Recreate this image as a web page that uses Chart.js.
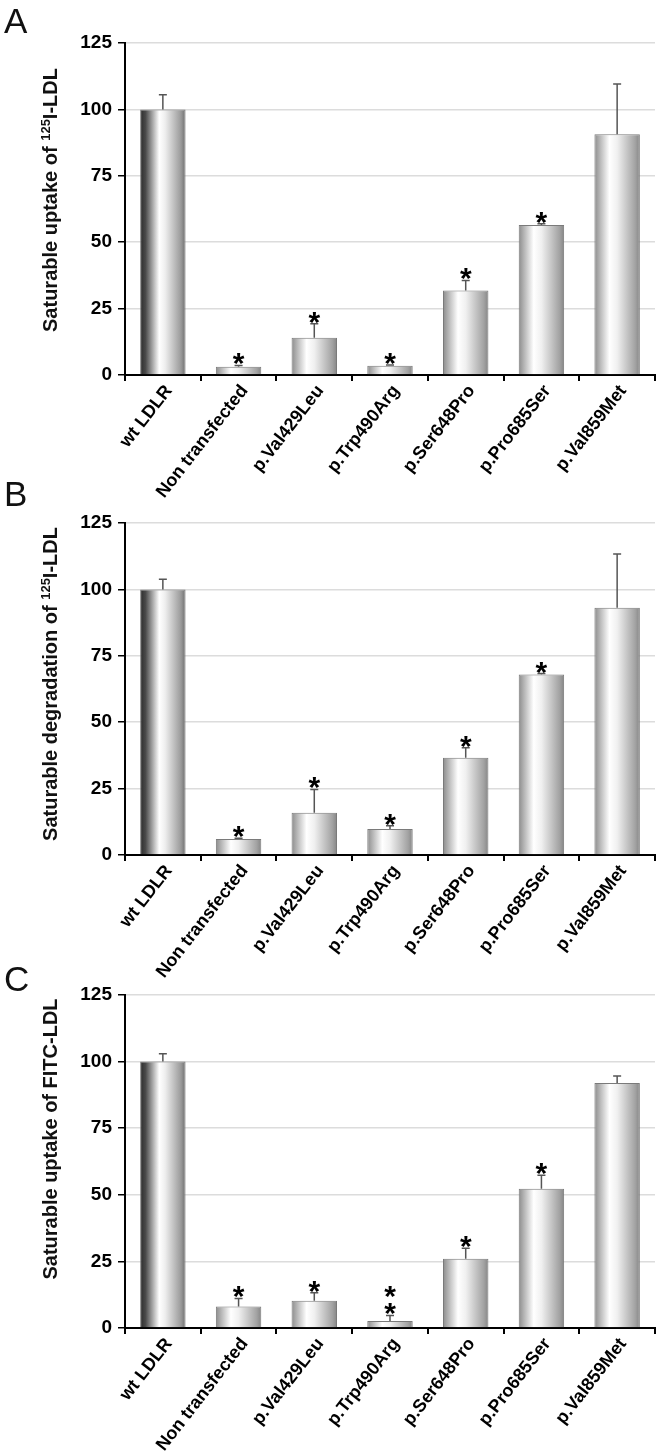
<!DOCTYPE html>
<html>
<head>
<meta charset="utf-8">
<title>LDLR variants: LDL uptake and degradation</title>
<script src="https://cdn.jsdelivr.net/npm/chart.js@4.4.0/dist/chart.umd.min.js"></script>
<style>
  html, body { margin: 0; padding: 0; background: #fff; }
  #wrap { position: relative; width: 660px; height: 1456px; overflow: hidden; }
  .panel { position: absolute; left: 0; }
</style>
</head>
<body>
<div id="wrap">
  <canvas id="panelA" class="panel" width="660" height="515" style="top:0"></canvas>
  <canvas id="panelB" class="panel" width="660" height="510" style="top:480px"></canvas>
  <canvas id="panelC" class="panel" width="660" height="501" style="top:955px"></canvas>
</div>
<script>
(function () {
  'use strict';

  // values (% of wt LDLR), SD = height of the error bar above the bar
  const CATEGORIES = ['wt LDLR', 'Non transfected', 'p.Val429Leu', 'p.Trp490Arg', 'p.Ser648Pro', 'p.Pro685Ser', 'p.Val859Met'];
  const UPTAKE_125I = [100, 3.1, 14.0, 3.5, 31.8, 56.5, 90.6];
  const UPTAKE_125I_SD = [5.5, 0.5, 5.3, 0.3, 3.8, 0.4, 19.0];
  const DEGRADATION_125I = [100, 6.0, 15.9, 9.8, 36.6, 68.0, 93.1];
  const DEGRADATION_125I_SD = [3.8, 0.3, 8.8, 1.2, 3.8, 0.3, 20.2];
  const UPTAKE_FITC = [100, 8.1, 10.2, 2.6, 26.0, 52.3, 92.0];
  const UPTAKE_FITC_SD = [2.9, 3.0, 3.0, 2.1, 3.9, 5.0, 2.6];
  const STARS_AB = [0, 1, 1, 1, 1, 1, 0];
  const STARS_C = [0, 1, 1, 2, 1, 1, 0];
  const Y_TICKS = [0, 25, 50, 75, 100, 125];

  const FONT = "'Liberation Sans', Arial, Helvetica, sans-serif";
  const BAR_PCT = 0.6;

  function barFill(ctx) {
    const chart = ctx.chart;
    const area = chart.chartArea;
    if (!area) return '#cccccc';
    const cx = chart.scales.x.getPixelForValue(ctx.dataIndex);
    const half = (area.right - area.left) / CATEGORIES.length * BAR_PCT / 2;
    const g = chart.ctx.createLinearGradient(cx - half, 0, cx + half, 0);
    if (ctx.dataIndex === 0) {
      g.addColorStop(0, '#2a2a2a');
      g.addColorStop(0.12, '#4a4a4a');
      g.addColorStop(0.42, '#ffffff');
      g.addColorStop(0.55, '#eeeeee');
      g.addColorStop(0.9, '#9a9a9a');
      g.addColorStop(1, '#6e6e6e');
    } else {
      g.addColorStop(0, '#8c8c8c');
      g.addColorStop(0.33, '#ffffff');
      g.addColorStop(0.5, '#f0f0f0');
      g.addColorStop(0.9, '#a2a2a2');
      g.addColorStop(1, '#858585');
    }
    return g;
  }

  // letter, y-axis title (with superscript), error bars and asterisks
  const overlay = {
    id: 'overlay',
    afterDatasetsDraw(chart, args, o) {
      const ctx = chart.ctx;
      const xs = chart.scales.x;
      const ys = chart.scales.y;
      ctx.save();

      o.values.forEach(function (v, i) {
        const cx = xs.getPixelForValue(i);
        const yTop = ys.getPixelForValue(v);
        const yErr = ys.getPixelForValue(v + o.errors[i]);
        ctx.strokeStyle = '#555';
        ctx.lineWidth = 1.5;
        ctx.beginPath();
        ctx.moveTo(cx, yTop);
        ctx.lineTo(cx, yErr);
        ctx.moveTo(cx - 4, yErr);
        ctx.lineTo(cx + 4, yErr);
        ctx.stroke();

        ctx.fillStyle = '#000';
        ctx.font = 'bold 30px ' + FONT;
        ctx.textAlign = 'center';
        ctx.textBaseline = 'alphabetic';
        for (let s = 0; s < o.stars[i]; s++) {
          const centre = yErr - 9 - s * 17;
          ctx.fillText('*', cx, centre + 17);
        }
      });

      ctx.fillStyle = '#111';
      ctx.font = '35px ' + FONT;
      ctx.textAlign = 'left';
      ctx.fillText(o.letter, 4, o.letterY);

      // rotated axis title
      const big = 'bold 20px ' + FONT;
      const small = 'bold 13px ' + FONT;
      let total = 0;
      o.title.forEach(function (p) {
        ctx.font = p.sup ? small : big;
        p.w = ctx.measureText(p.t).width;
        total += p.w;
      });
      ctx.translate(57, o.titleY);
      ctx.rotate(-Math.PI / 2);
      let x = -total / 2;
      o.title.forEach(function (p) {
        ctx.font = p.sup ? small : big;
        ctx.fillText(p.t, x, p.sup ? -7 : 0);
        x += p.w;
      });
      ctx.restore();
    }
  };

  function makePanel(id, values, errors, stars, opts) {
    const canvas = document.getElementById(id);
    const H = canvas.height;
    return new Chart(canvas, {
      type: 'bar',
      data: {
        labels: CATEGORIES,
        datasets: [{
          data: values,
          backgroundColor: barFill,
          borderColor: '#7a7a7a',
          borderWidth: 1,
          borderSkipped: 'bottom',
          categoryPercentage: 1,
          barPercentage: BAR_PCT,
        }],
      },
      options: {
        responsive: false,
        animation: false,
        events: [],
        layout: { padding: { top: opts.top, right: 5, left: 0, bottom: 0 } },
        plugins: {
          legend: { display: false },
          tooltip: { enabled: false },
          overlay: {
            values: values, errors: errors, stars: stars,
            letter: opts.letter, letterY: opts.letterY,
            title: opts.title, titleY: opts.titleY,
          },
        },
        scales: {
          y: {
            min: 0,
            max: 125,
            afterBuildTicks: function (s) { s.ticks = Y_TICKS.map(function (v) { return { value: v }; }); },
            afterFit: function (s) { s.width = 125; },
            border: { color: '#000', width: 2 },
            grid: {
              color: function (c) { return c.tick && c.tick.value === 0 ? 'rgba(0,0,0,0)' : '#dcdcdc'; },
              lineWidth: 1.5,
              tickColor: '#000',
              tickLength: 7,
            },
            ticks: { color: '#000', font: { family: FONT, size: 19, weight: 'bold' }, padding: 6 },
          },
          x: {
            afterFit: function (s) { s.height = H - opts.bottom; },
            border: { color: '#000', width: 2 },
            grid: { drawOnChartArea: false, tickColor: '#000', tickLength: 6, lineWidth: 2 },
            ticks: {
              color: '#000',
              font: { family: FONT, size: 18, weight: 'bold' },
              minRotation: 52,
              maxRotation: 52,
              autoSkip: false,
              padding: 0,
              labelOffset: 6,
            },
          },
        },
      },
      plugins: [overlay],
    });
  }

  makePanel('panelA', UPTAKE_125I, UPTAKE_125I_SD, STARS_AB, {
    top: 43, bottom: 375, letter: 'A', letterY: 33, titleY: 200,
    title: [{ t: 'Saturable uptake of ' }, { t: '125', sup: true }, { t: 'I-LDL' }],
  });
  makePanel('panelB', DEGRADATION_125I, DEGRADATION_125I_SD, STARS_AB, {
    top: 43, bottom: 375, letter: 'B', letterY: 26, titleY: 204,
    title: [{ t: 'Saturable degradation of ' }, { t: '125', sup: true }, { t: 'I-LDL' }],
  });
  makePanel('panelC', UPTAKE_FITC, UPTAKE_FITC_SD, STARS_C, {
    top: 40, bottom: 373, letter: 'C', letterY: 36, titleY: 184,
    title: [{ t: 'Saturable uptake of FITC-LDL' }],
  });
})();
</script>
</body>
</html>
